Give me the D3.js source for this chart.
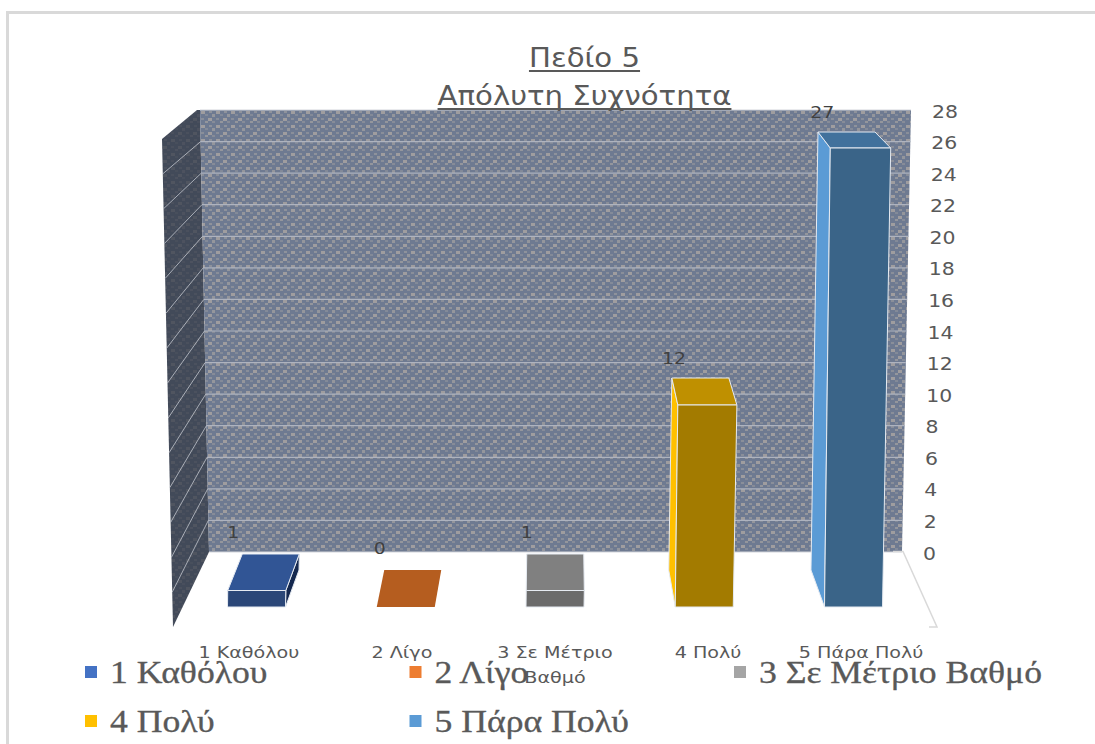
<!DOCTYPE html>
<html><head><meta charset="utf-8">
<style>html,body{margin:0;padding:0;background:#fff}svg{display:block}</style>
<script src="https://cdn.jsdelivr.net/npm/d3@7/dist/d3.min.js"></script>
</head><body><svg id="c" width="1095" height="744"></svg>
<script>
const titleLines = ["Πεδίο 5", "Απόλυτη Συχνότητα"];
const categories = ["1 Καθόλου", "2 Λίγο", "3 Σε Μέτριο Βαθμό", "4 Πολύ", "5 Πάρα Πολύ"];
const values = [1, 0, 1, 12, 27];
const tickValues = [0,2,4,6,8,10,12,14,16,18,20,22,24,26,28];
const legendColors = ["#4472c4","#ed7d31","#a5a5a5","#ffc000","#5b9bd5"];
const frontColors = ["#2b4778","#b55d1f","#6b6b6b","#a37b00","#3a6488"];
const topColors = ["#315595","#b55d1f","#808080","#bf9000","#41719c"];
const sideColors = ["#14284f","#b55d1f","#6b6b6b","#ffc000","#5b9bd5"];

const svg = d3.select("#c");
const textCol = "#595959";
const sans = "'DejaVu Sans', sans-serif", serif = "'Liberation Serif', serif";
function stretch(sel, f){
  sel.each(function(){
    this.setAttribute("textLength", this.getComputedTextLength()*f);
    this.setAttribute("lengthAdjust","spacingAndGlyphs");
  });
  return sel;
}

// frame
svg.append("path").attr("d","M7.5,744V12.5H1095").attr("fill","none").attr("stroke","#d9d9d9").attr("stroke-width",3);

// textures
const defs = svg.append("defs");
function texture(id, bg, dot, strong){
  const p = defs.append("pattern").attr("id",id).attr("patternUnits","userSpaceOnUse")
    .attr("width",15).attr("height",14).attr("x",200).attr("y",110);
  p.append("rect").attr("width",15).attr("height",14).attr("fill",bg);
  [[1,1,4,3,.9],[9,1,3,2,.6],[5,4,3,2,.4],[12,4,3,3,.7],[1,8,3,2,.5],[8,8,4,3,.9],[5,11,3,2,.7],[12,11,3,2,.45]]
   .forEach(d=>p.append("rect").attr("x",d[0]).attr("y",d[1]).attr("width",d[2]).attr("height",d[3])
     .attr("fill",dot).attr("opacity",d[4]*strong));
}
texture("wall","#6e7a91","#aaa6a3",.9);
texture("side","#424a59","#5c5e66",.6);

// wall scales
const yBack = d3.scaleLinear().domain([0,28]).range([552,110]);
const yEdge = d3.scaleLinear().domain([0,28]).range([627,139]);
const xBack = d3.scaleLinear().domain([0,28]).range([209,200]);
const xEdge = d3.scaleLinear().domain([0,28]).range([173,162]);
const xRight = d3.scaleLinear().domain([0,28]).range([902,911]);
const line = d3.line();

// left wall
svg.append("path").attr("fill","url(#side)").attr("d", line([
  [xEdge(28),yEdge(28)],[xBack(28)-3,yBack(28)],[xBack(28),yBack(28)],[xBack(0),yBack(0)],[xEdge(0),yEdge(0)]])+"Z");
// back wall
svg.append("path").attr("fill","url(#wall)").attr("d", line([
  [xBack(28),yBack(28)],[xRight(28),yBack(28)],[xRight(0),yBack(0)],[xBack(0),yBack(0)]])+"Z");

// gridlines
svg.append("g").selectAll("line").data(tickValues).join("line")
  .attr("x1",d=>xBack(d)).attr("x2",d=>xRight(d)).attr("y1",d=>yBack(d)).attr("y2",d=>yBack(d))
  .attr("stroke",d=>(d===0||d===28)?"#d4d6db":"#aeb3bf").attr("stroke-width",1.2);
svg.append("g").selectAll("line").data(tickValues.filter(d=>d>0&&d<28)).join("line")
  .attr("x1",d=>xBack(d)).attr("x2",d=>xEdge(d)).attr("y1",d=>yBack(d)).attr("y2",d=>yEdge(d))
  .attr("stroke","#c3c6ce").attr("stroke-width",.8);
// right floor edge
svg.append("path").attr("fill","none").attr("stroke","#d9d9d9").attr("stroke-width",1.5)
  .attr("d", line([[893,551.5],[903,551.5],[937,627],[929,627]]));

// bars
const xFront = d3.scalePoint().domain(categories).range([256.5,853.5]);
const yFront = d3.scaleLinear().domain([0,1,12,27]).range([607,590.5,405,148]);
const yRear = d3.scaleLinear().domain([0,1,12,27]).range([570,554,378,132]);
const lean = d3.scaleLinear().domain([0,27]).range([0,7]);
const vanish = 555, depth = 0.047;
function corners(cat, v){
  const x0 = xFront(cat), off = (vanish-x0)*depth;
  const hf = 29 + v*.045, hb = 28.5;
  const xf = x0 + lean(v), xfb = x0, xb = x0 + off + lean(v), xbb = x0 + off;
  return {
    off,
    front:[[xfb-29,yFront(0)],[xf-hf,yFront(v)],[xf+hf,yFront(v)],[xfb+29,yFront(0)]],
    top:[[xf-hf,yFront(v)],[xb-hb,yRear(v)],[xb+hb,yRear(v)],[xf+hf,yFront(v)]],
    sideL:[[xfb-29,yFront(0)],[xf-hf,yFront(v)],[xb-hb,yRear(v)],[xbb-hb,yRear(0)]],
    sideR:[[xfb+29,yFront(0)],[xf+hf,yFront(v)],[xb+hb,yRear(v)],[xbb+hb,yRear(0)]]
  };
}
const bars = svg.append("g").selectAll("g").data(categories).join("g");
bars.each(function(cat,i){
  const g = d3.select(this), v = values[i], c = corners(cat,v);
  const edge = v>0 ? "#e6ebf2" : "none";
  if (v>0 && Math.abs(c.off)>1)
    g.append("path").attr("d",line(c.off<0?c.sideL:c.sideR)+"Z").attr("fill",sideColors[i]).attr("stroke",edge);
  g.append("path").attr("d",line(c.top)+"Z").attr("fill",topColors[i]).attr("stroke",edge);
  if (v>0) g.append("path").attr("d",line(c.front)+"Z").attr("fill",frontColors[i]).attr("stroke",edge);
});

// value labels
svg.append("g").selectAll("text").data(categories).join("text")
  .attr("x",(d,i)=>{ const c = corners(d,values[i]); return c.top[1][0] - c.off*(c.off>0?.65:.3); })
  .attr("y",(d,i)=>yRear(values[i])-(values[i]>5?14.5:16.5))
  .attr("text-anchor","middle").attr("font-family",sans).attr("font-size",16).attr("fill","#404040")
  .text((d,i)=>values[i]).call(stretch,1.18);

// value axis labels
svg.append("g").selectAll("text").data(tickValues).join("text")
  .attr("x",d=>xRight(d)+21).attr("y",d=>yBack(d)+7.5)
  .attr("font-family",sans).attr("font-size",17).attr("fill",textCol).text(d=>d).call(stretch,1.2);

// category labels
const catY = 658;
function catParts(d){ const w = d.split(" "); return w.length>3 ? [w.slice(0,3).join(" "), w.slice(3).join(" ")] : [d]; }
svg.append("g").selectAll("text")
  .data(categories.flatMap(d=>catParts(d).map((s,k)=>({d,s,k})))).join("text")
  .attr("x",o=>xFront(o.d)+(xFront(o.d)-vanish)*.0255).attr("y",o=>catY+o.k*24.5)
  .attr("text-anchor","middle").attr("font-family",sans).attr("font-size",16.5).attr("fill",textCol)
  .text(o=>o.s).call(stretch,1.16);

// legend
const legX = d3.scalePoint().domain([0,1,2]).range([85,734]);
const legY = d3.scalePoint().domain([0,1]).range([672,721]);
const leg = svg.append("g").selectAll("g").data(categories).join("g")
  .attr("transform",(d,i)=>`translate(${legX(i%3)},${legY(Math.floor(i/3))})`);
leg.append("rect").attr("y",-6).attr("width",12).attr("height",12).attr("fill",(d,i)=>legendColors[i]);
leg.append("text").attr("x",25).attr("y",11).attr("font-family",serif).attr("font-size",31)
  .attr("fill",textCol).attr("stroke",textCol).attr("stroke-width",.3).text(d=>d).call(stretch,1.15);

// title
const tx = 584.5;
titleLines.forEach((s,i)=>{
  const base = 67+i*38;
  const t = svg.append("text").attr("x",tx).attr("y",base).attr("text-anchor","middle")
    .attr("font-family",sans).attr("font-size",27).attr("fill",textCol).text(s).call(stretch,1.08);
  const w = +t.attr("textLength");
  svg.append("line").attr("x1",tx-w/2).attr("x2",tx+w/2).attr("y1",base+4).attr("y2",base+4)
    .attr("stroke",textCol).attr("stroke-width",2);
});
</script></body></html>
